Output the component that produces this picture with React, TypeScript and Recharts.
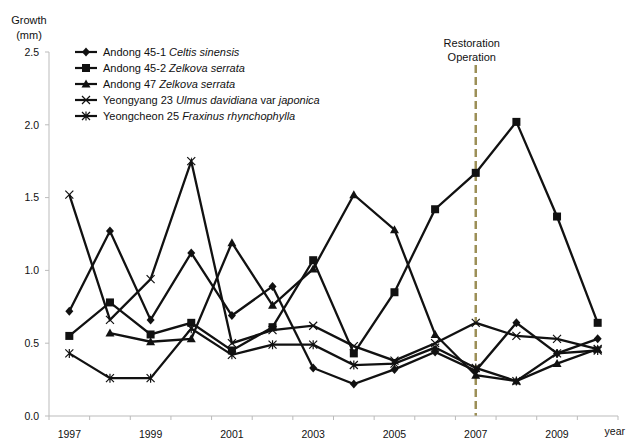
import { LineChart, Line, XAxis, YAxis, ReferenceLine, Legend } from 'recharts';

const years = [1997, 1998, 1999, 2000, 2001, 2002, 2003, 2004, 2005, 2006, 2007, 2008, 2009, 2010];
const celtis = [0.72, 1.27, 0.66, 1.12, 0.69, 0.89, 0.33, 0.22, 0.32, 0.44, 0.31, 0.64, 0.43, 0.53];
const zelkova452 = [0.55, 0.78, 0.56, 0.64, 0.45, 0.61, 1.07, 0.43, 0.85, 1.42, 1.67, 2.02, 1.37, 0.64];
const zelkova47 = [null, 0.57, 0.51, 0.53, 1.19, 0.76, 1.01, 1.52, 1.28, 0.56, 0.28, 0.24, 0.36, 0.46];
const ulmus = [1.52, 0.66, 0.94, 1.75, 0.5, 0.59, 0.62, 0.48, 0.38, 0.5, 0.64, 0.55, 0.53, 0.46];
const fraxinus = [0.43, 0.26, 0.26, 0.6, 0.42, 0.49, 0.49, 0.35, 0.36, 0.47, 0.33, 0.24, 0.43, 0.45];

const yTicks = [0, 0.5, 1, 1.5, 2, 2.5];
const labelYears = [1997, 1999, 2001, 2003, 2005, 2007, 2009];
const tickBounds = [1996.5, 1997.5, 1998.5, 1999.5, 2000.5, 2001.5, 2002.5, 2003.5, 2004.5, 2005.5, 2006.5, 2007.5, 2008.5, 2009.5, 2010.5];
const restorationYear = 2007;

const data = years.map((year, i) => ({
    year,
    celtis: celtis[i],
    zelkova452: zelkova452[i],
    zelkova47: zelkova47[i],
    ulmus: ulmus[i],
    fraxinus: fraxinus[i],
}));

const FONT = '"Liberation Sans", Arial, sans-serif';
const INK = '#111';

type Shape = 'diamond' | 'square' | 'triangle' | 'x' | 'star';

function marker(shape: Shape, cx: number, cy: number) {
    switch (shape) {
        case 'diamond':
            return <path d={`M${cx},${cy - 4.5}L${cx + 4},${cy}L${cx},${cy + 4.5}L${cx - 4},${cy}Z`} fill={INK} />;
        case 'square':
            return <rect x={cx - 4} y={cy - 4} width={8} height={8} fill={INK} />;
        case 'triangle':
            return <path d={`M${cx},${cy - 4.5}L${cx + 4.5},${cy + 3.5}L${cx - 4.5},${cy + 3.5}Z`} fill={INK} />;
        case 'x':
            return (
                <path
                    d={`M${cx - 4},${cy - 4}L${cx + 4},${cy + 4}M${cx - 4},${cy + 4}L${cx + 4},${cy - 4}`}
                    stroke={INK}
                    strokeWidth={1.2}
                    fill="none"
                />
            );
        case 'star':
            return (
                <path
                    d={`M${cx - 4},${cy - 4}L${cx + 4},${cy + 4}M${cx - 4},${cy + 4}L${cx + 4},${cy - 4}M${cx},${cy - 4.5}L${cx},${cy + 4.5}`}
                    stroke={INK}
                    strokeWidth={1.2}
                    fill="none"
                />
            );
    }
}

const dotFor = (shape: Shape) => (props: any) => {
    const { cx, cy, value, key } = props;
    if (cx == null || cy == null || value == null) return <g key={key} />;
    return <g key={key}>{marker(shape, cx, cy)}</g>;
};

const series: { key: string; shape: Shape; site: string; species: string; extra?: string; species2?: string }[] = [
    { key: 'celtis', shape: 'diamond', site: 'Andong 45-1', species: 'Celtis sinensis' },
    { key: 'zelkova452', shape: 'square', site: 'Andong 45-2', species: 'Zelkova serrata' },
    { key: 'zelkova47', shape: 'triangle', site: 'Andong 47', species: 'Zelkova serrata' },
    { key: 'ulmus', shape: 'x', site: 'Yeongyang 23', species: 'Ulmus davidiana', extra: 'var', species2: 'japonica' },
    { key: 'fraxinus', shape: 'star', site: 'Yeongcheon 25', species: 'Fraxinus rhynchophylla' },
];

function XTick(props: any) {
    const { x, y, payload } = props;
    const v = payload.value;
    if (Number.isInteger(v)) {
        return (
            <text x={x} y={y} dy="0.71em" textAnchor="middle" fill={INK} fontSize={10.5} fontFamily={FONT}>
                {v}
            </text>
        );
    }
    return <line x1={x} x2={x} y1={y - 15} y2={y - 11} stroke="#bbb" />;
}

function LegendBox() {
    return (
        <div style={{ fontFamily: FONT, fontSize: 11, color: INK }}>
            {series.map((s) => (
                <div key={s.key} style={{ display: 'flex', alignItems: 'center', height: 16, whiteSpace: 'nowrap' }}>
                    <svg width={27} height={10} style={{ marginRight: 1 }}>
                        <line x1={0} x2={22} y1={5} y2={5} stroke={INK} strokeWidth={2.2} />
                        {marker(s.shape, 11, 5)}
                    </svg>
                    <span>
                        {s.site} <i>{s.species}</i>
                        {s.extra ? <> {s.extra} <i>{s.species2}</i></> : null}
                    </span>
                </div>
            ))}
        </div>
    );
}

function RestorationLabel(props: any) {
    const { viewBox } = props;
    const x = viewBox.x - 4;
    const y = viewBox.y;
    return (
        <text textAnchor="middle" fill={INK} fontSize={11} fontFamily={FONT}>
            <tspan x={x} y={y - 18}>Restoration</tspan>
            <tspan x={x} y={y - 4}>Operation</tspan>
        </text>
    );
}

export default function App() {
    return (
        <div style={{ position: 'absolute', left: 0, top: 0, width: 635, height: 441, background: '#fff' }}>
            <div
                style={{
                    position: 'absolute',
                    left: 4,
                    top: 13,
                    width: 50,
                    textAlign: 'center',
                    fontFamily: FONT,
                    fontSize: 11,
                    lineHeight: '15px',
                    color: INK,
                }}
            >
                Growth
                <br />
                (mm)
            </div>
            <LineChart width={635} height={441} data={data} margin={{ top: 52, right: 17, bottom: 0, left: 0 }}>
                <XAxis
                    dataKey="year"
                    type="number"
                    domain={[1996.5, 2010.5]}
                    ticks={[...tickBounds, ...labelYears].sort((a, b) => a - b)}
                    interval={0}
                    height={25}
                    tickSize={4}
                    tickMargin={11}
                    tickLine={false}
                    tick={<XTick />}
                    axisLine={{ stroke: '#bbb' }}
                    label={{
                        value: 'year',
                        position: 'insideRight',
                        offset: -7,
                        dy: 3,
                        fill: INK,
                        fontSize: 10.5,
                        fontFamily: FONT,
                    }}
                />
                <YAxis
                    domain={[0, 2.5]}
                    ticks={yTicks}
                    tickFormatter={(v: number) => v.toFixed(1)}
                    width={49}
                    tickSize={4}
                    tickMargin={6}
                    axisLine={{ stroke: '#bbb' }}
                    tickLine={{ stroke: '#bbb' }}
                    tick={{ fill: INK, fontSize: 10.5, fontFamily: FONT }}
                />
                <Legend
                    layout="vertical"
                    align="center"
                    verticalAlign="middle"
                    content={() => <LegendBox />}
                    wrapperStyle={{ left: 75, top: 44, width: 'auto' }}
                />
                <ReferenceLine
                    segment={[
                        { x: restorationYear, y: 2.41 },
                        { x: restorationYear, y: 0 },
                    ]}
                    stroke="#9c8f57"
                    strokeWidth={2.5}
                    strokeDasharray="8 4"
                    label={<RestorationLabel />}
                />
                {series.map((s) => (
                    <Line
                        key={s.key}
                        dataKey={s.key}
                        stroke={INK}
                        strokeWidth={2.3}
                        dot={dotFor(s.shape)}
                        activeDot={false}
                        isAnimationActive={false}
                    />
                ))}
            </LineChart>
        </div>
    );
}
